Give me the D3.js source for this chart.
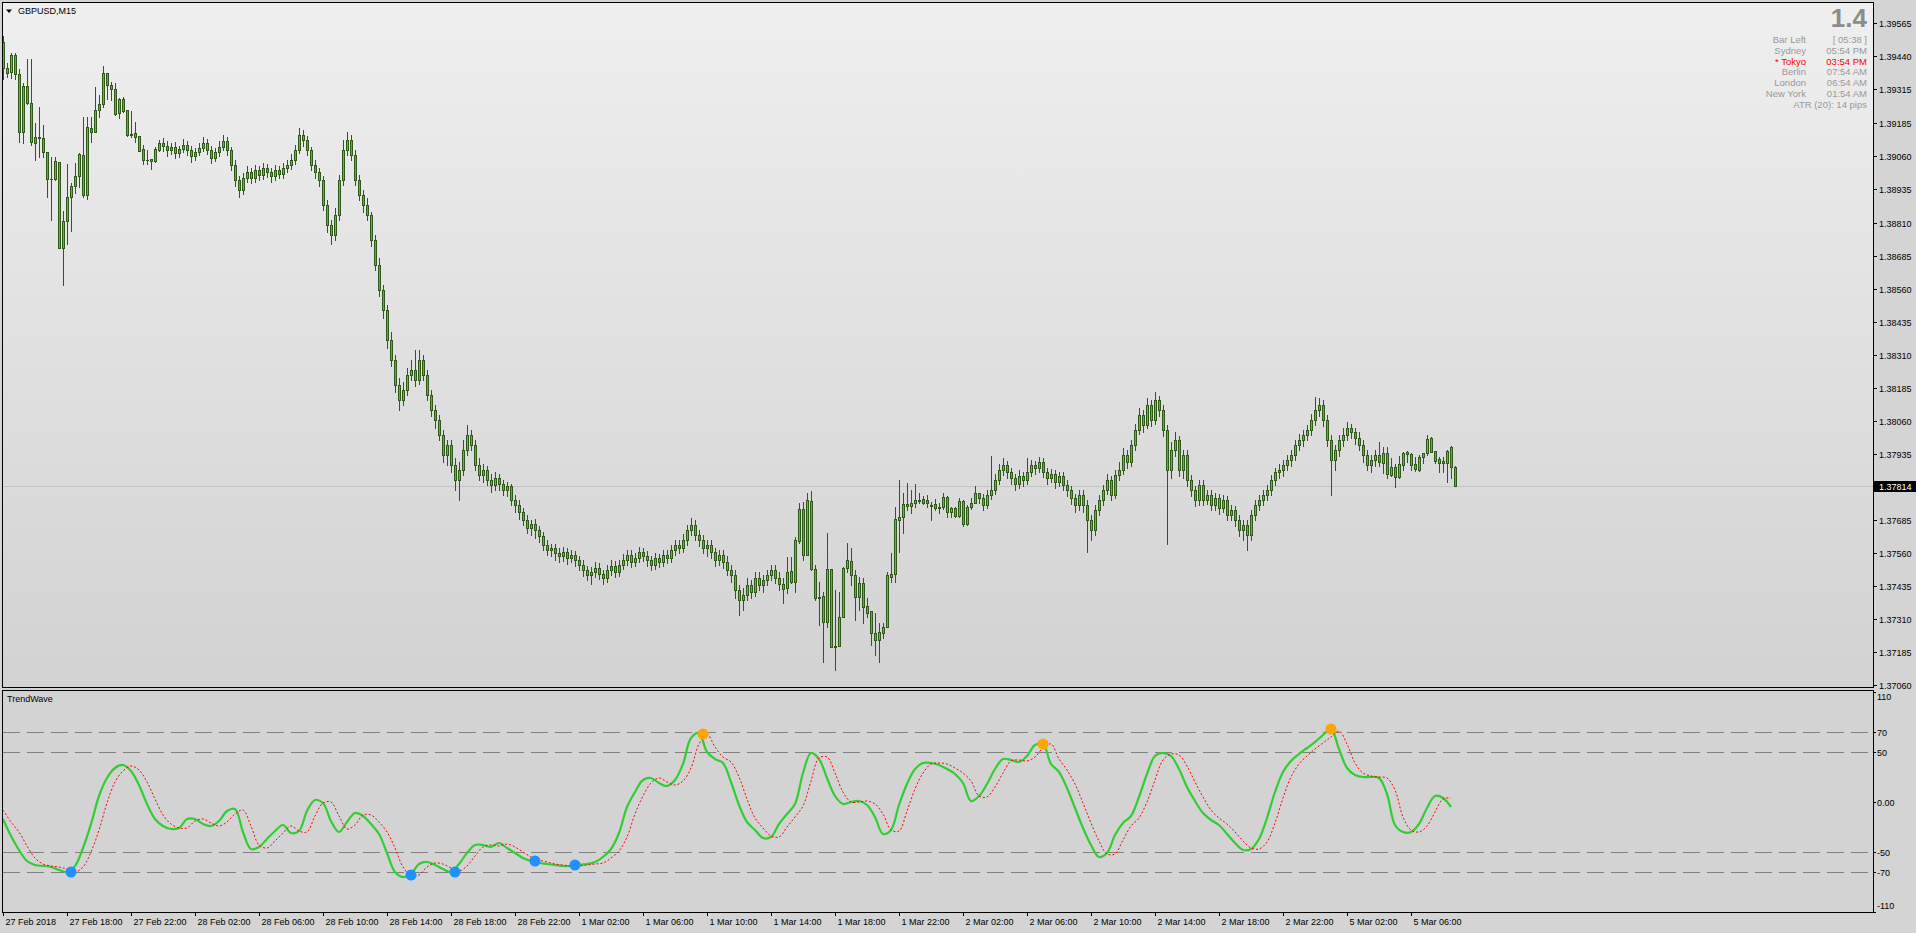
<!DOCTYPE html>
<html><head><meta charset="utf-8">
<script src="https://cdn.jsdelivr.net/npm/d3@7"></script>
<style>
html,body{margin:0;padding:0;background:#d4d4d4;overflow:hidden;}
svg{display:block;}
text{font-family:"Liberation Sans",Arial,sans-serif;}
</style></head><body>
<svg id="c" width="1916" height="933"></svg>
<script>
// ---------------- DATA ----------------
const symbolTitle = "GBPUSD,M15";
const timeTickBars = [0,16,32,48,64,80,96,112,128,144,160,176,192,208,224,240,256,272,288,304,320,336,352];
const timeTickLabels = ["27 Feb 2018","27 Feb 18:00","27 Feb 22:00","28 Feb 02:00","28 Feb 06:00","28 Feb 10:00","28 Feb 14:00","28 Feb 18:00","28 Feb 22:00","1 Mar 02:00","1 Mar 06:00","1 Mar 10:00","1 Mar 14:00","1 Mar 18:00","1 Mar 22:00","2 Mar 02:00","2 Mar 06:00","2 Mar 10:00","2 Mar 14:00","2 Mar 18:00","2 Mar 22:00","5 Mar 02:00","5 Mar 06:00"];
const priceTicks = [1.39565,1.39440,1.39315,1.39185,1.39060,1.38935,1.38810,1.38685,1.38560,1.38435,1.38310,1.38185,1.38060,1.37935,1.37685,1.37560,1.37435,1.37310,1.37185,1.37060];
const currentPrice = 1.37814;

const open = [
1.39493,1.39376,1.39379,1.39444,1.39372,1.39152,1.39326,1.39263,1.39111,1.39130,
1.39130,1.39076,1.38975,1.38975,1.39039,1.38714,1.38816,1.38907,1.38948,1.38986,
1.39065,1.38914,1.39168,1.39152,1.39236,1.39259,1.39376,1.39330,1.39315,1.39225,
1.39277,1.39236,1.39145,1.39149,1.39137,1.39088,1.39047,1.39050,1.39043,1.39084,
1.39111,1.39099,1.39084,1.39096,1.39073,1.39088,1.39103,1.39084,1.39061,1.39076,
1.39092,1.39111,1.39084,1.39054,1.39076,1.39096,1.39118,1.39084,1.39028,1.38971,
1.38933,1.38979,1.39001,1.38979,1.39009,1.38990,1.39017,1.39001,1.38986,1.39009,
1.38994,1.39017,1.39028,1.39047,1.39084,1.39141,1.39122,1.39084,1.39028,1.39001,
1.38971,1.38876,1.38801,1.38763,1.38838,1.38971,1.39084,1.39122,1.39065,1.38971,
1.38914,1.38876,1.38838,1.38744,1.38649,1.38555,1.38479,1.38365,1.38290,1.38195,
1.38138,1.38176,1.38233,1.38252,1.38214,1.38290,1.38233,1.38157,1.38101,1.38063,
1.38006,1.37930,1.37968,1.37892,1.37836,1.37874,1.37949,1.38006,1.37968,1.37892,
1.37855,1.37874,1.37836,1.37817,1.37844,1.37821,1.37798,1.37813,1.37760,1.37741,
1.37714,1.37684,1.37654,1.37669,1.37646,1.37623,1.37590,1.37571,1.37579,1.37560,
1.37548,1.37563,1.37541,1.37552,1.37533,1.37514,1.37495,1.37476,1.37487,1.37502,
1.37480,1.37465,1.37495,1.37510,1.37487,1.37514,1.37533,1.37552,1.37525,1.37541,
1.37563,1.37548,1.37533,1.37514,1.37541,1.37525,1.37552,1.37541,1.37571,1.37590,
1.37579,1.37609,1.37646,1.37665,1.37627,1.37609,1.37579,1.37590,1.37563,1.37533,
1.37552,1.37525,1.37495,1.37476,1.37419,1.37382,1.37400,1.37438,1.37411,1.37465,
1.37438,1.37457,1.37476,1.37495,1.37465,1.37442,1.37427,1.37491,1.37449,1.37605,
1.37726,1.37552,1.37756,1.37499,1.37393,1.37396,1.37298,1.37499,1.37207,1.37207,
1.37318,1.37503,1.37529,1.37476,1.37393,1.37446,1.37359,1.37340,1.37230,1.37230,
1.37257,1.37280,1.37469,1.37480,1.37684,1.37696,1.37745,1.37737,1.37749,1.37760,
1.37764,1.37760,1.37741,1.37745,1.37734,1.37734,1.37772,1.37714,1.37730,1.37699,
1.37756,1.37669,1.37734,1.37749,1.37787,1.37768,1.37741,1.37779,1.37798,1.37836,
1.37874,1.37892,1.37866,1.37844,1.37821,1.37851,1.37836,1.37866,1.37892,1.37881,
1.37903,1.37866,1.37844,1.37859,1.37828,1.37851,1.37817,1.37798,1.37768,1.37741,
1.37779,1.37741,1.37684,1.37646,1.37722,1.37760,1.37798,1.37836,1.37779,1.37855,
1.37874,1.37930,1.37903,1.37968,1.38025,1.38082,1.38044,1.38119,1.38063,1.38138,
1.38101,1.38025,1.37874,1.37949,1.37987,1.37874,1.37930,1.37836,1.37798,1.37760,
1.37817,1.37760,1.37779,1.37741,1.37768,1.37730,1.37760,1.37703,1.37722,1.37684,
1.37646,1.37665,1.37627,1.37703,1.37741,1.37760,1.37779,1.37798,1.37836,1.37866,
1.37874,1.37892,1.37911,1.37930,1.37968,1.37987,1.38006,1.38025,1.38063,1.38101,
1.38119,1.38063,1.37987,1.37911,1.37949,1.37987,1.38006,1.38033,1.38017,1.37995,
1.37968,1.37930,1.37892,1.37911,1.37930,1.37900,1.37938,1.37855,1.37885,1.37848,
1.37892,1.37941,1.37934,1.37896,1.37874,1.37923,1.37938,1.37995,1.37945,1.37915,
1.37907,1.37900,1.37961,1.37885];
const high = [
1.39515,1.39414,1.39452,1.39452,1.39391,1.39338,1.39429,1.39429,1.39187,1.39248,
1.39179,1.39076,1.39058,1.39058,1.39039,1.38853,1.39032,1.38960,1.39036,1.39073,
1.39210,1.39210,1.39210,1.39323,1.39292,1.39402,1.39376,1.39341,1.39338,1.39281,
1.39285,1.39236,1.39232,1.39190,1.39137,1.39103,1.39084,1.39050,1.39096,1.39122,
1.39130,1.39118,1.39111,1.39114,1.39099,1.39126,1.39118,1.39099,1.39092,1.39111,
1.39134,1.39126,1.39099,1.39092,1.39118,1.39141,1.39134,1.39096,1.39047,1.38986,
1.38998,1.39024,1.39017,1.39028,1.39024,1.39036,1.39032,1.39017,1.39028,1.39024,
1.39036,1.39047,1.39069,1.39103,1.39168,1.39160,1.39137,1.39096,1.39047,1.39017,
1.38986,1.38895,1.38820,1.38865,1.38990,1.39122,1.39152,1.39141,1.39084,1.38990,
1.38933,1.38903,1.38849,1.38763,1.38676,1.38573,1.38498,1.38395,1.38309,1.38222,
1.38206,1.38260,1.38290,1.38328,1.38328,1.38309,1.38252,1.38176,1.38119,1.38082,
1.38025,1.37987,1.37987,1.37919,1.37903,1.37987,1.38044,1.38025,1.37987,1.37919,
1.37896,1.37889,1.37859,1.37866,1.37859,1.37836,1.37828,1.37821,1.37779,1.37760,
1.37730,1.37703,1.37684,1.37688,1.37661,1.37639,1.37609,1.37594,1.37594,1.37579,
1.37582,1.37579,1.37571,1.37567,1.37548,1.37533,1.37510,1.37506,1.37525,1.37522,
1.37495,1.37514,1.37533,1.37529,1.37533,1.37556,1.37571,1.37571,1.37560,1.37582,
1.37579,1.37567,1.37548,1.37560,1.37556,1.37571,1.37571,1.37590,1.37609,1.37609,
1.37631,1.37665,1.37692,1.37684,1.37646,1.37627,1.37609,1.37609,1.37579,1.37571,
1.37571,1.37548,1.37514,1.37495,1.37438,1.37427,1.37465,1.37457,1.37487,1.37487,
1.37476,1.37495,1.37514,1.37514,1.37487,1.37465,1.37545,1.37545,1.37620,1.37749,
1.37752,1.37787,1.37794,1.37514,1.37449,1.37411,1.37635,1.37499,1.37419,1.37411,
1.37507,1.37598,1.37579,1.37495,1.37469,1.37465,1.37389,1.37340,1.37333,1.37295,
1.37295,1.37487,1.37560,1.37734,1.37836,1.37787,1.37825,1.37798,1.37821,1.37787,
1.37775,1.37779,1.37752,1.37764,1.37749,1.37787,1.37775,1.37734,1.37734,1.37768,
1.37760,1.37741,1.37768,1.37813,1.37764,1.37783,1.37798,1.37926,1.37859,1.37896,
1.37919,1.37907,1.37881,1.37859,1.37874,1.37866,1.37919,1.37911,1.37907,1.37923,
1.37919,1.37881,1.37877,1.37874,1.37866,1.37866,1.37836,1.37813,1.37783,1.37798,
1.37798,1.37760,1.37703,1.37741,1.37779,1.37817,1.37859,1.37851,1.37874,1.37903,
1.37957,1.37949,1.37987,1.38048,1.38108,1.38101,1.38146,1.38138,1.38168,1.38153,
1.38119,1.38044,1.37979,1.38017,1.38002,1.37949,1.37949,1.37855,1.37813,1.37836,
1.37836,1.37798,1.37798,1.37787,1.37783,1.37779,1.37775,1.37741,1.37737,1.37703,
1.37684,1.37684,1.37722,1.37760,1.37779,1.37798,1.37817,1.37855,1.37881,1.37896,
1.37911,1.37930,1.37949,1.37987,1.38010,1.38025,1.38044,1.38086,1.38150,1.38146,
1.38138,1.38082,1.38006,1.37968,1.38006,1.38033,1.38055,1.38048,1.38033,1.38017,
1.37987,1.37949,1.37930,1.37949,1.37979,1.37961,1.37961,1.37919,1.37896,1.37926,
1.37941,1.37945,1.37938,1.37923,1.37930,1.37938,1.38006,1.37999,1.37945,1.37923,
1.37923,1.37949,1.37964,1.37888];
const low = [
1.39353,1.39361,1.39357,1.39353,1.39114,1.39111,1.39259,1.39103,1.39047,1.39058,
1.39058,1.38907,1.38820,1.38971,1.38714,1.38573,1.38729,1.38778,1.38922,1.38945,
1.38907,1.38899,1.39114,1.39152,1.39210,1.39248,1.39277,1.39274,1.39217,1.39206,
1.39228,1.39137,1.39134,1.39114,1.39080,1.39032,1.39032,1.39013,1.39039,1.39080,
1.39080,1.39061,1.39069,1.39054,1.39058,1.39076,1.39065,1.39039,1.39047,1.39065,
1.39080,1.39069,1.39036,1.39043,1.39061,1.39084,1.39065,1.39009,1.38948,1.38907,
1.38918,1.38963,1.38960,1.38963,1.38971,1.38975,1.38983,1.38963,1.38971,1.38979,
1.38979,1.39001,1.39013,1.39032,1.39073,1.39099,1.39065,1.39009,1.38979,1.38948,
1.38857,1.38774,1.38729,1.38744,1.38820,1.38952,1.39065,1.39047,1.38952,1.38895,
1.38849,1.38820,1.38721,1.38630,1.38532,1.38449,1.38335,1.38267,1.38168,1.38101,
1.38119,1.38157,1.38214,1.38191,1.38199,1.38214,1.38138,1.38078,1.38033,1.37987,
1.37903,1.37892,1.37866,1.37798,1.37760,1.37855,1.37930,1.37949,1.37874,1.37836,
1.37828,1.37817,1.37790,1.37798,1.37798,1.37779,1.37775,1.37741,1.37714,1.37688,
1.37665,1.37635,1.37627,1.37616,1.37601,1.37571,1.37552,1.37548,1.37533,1.37525,
1.37529,1.37518,1.37525,1.37510,1.37495,1.37472,1.37457,1.37442,1.37469,1.37461,
1.37442,1.37449,1.37476,1.37469,1.37472,1.37499,1.37514,1.37506,1.37510,1.37525,
1.37529,1.37510,1.37495,1.37499,1.37506,1.37510,1.37522,1.37525,1.37552,1.37560,
1.37563,1.37590,1.37627,1.37609,1.37586,1.37560,1.37548,1.37541,1.37510,1.37514,
1.37502,1.37476,1.37449,1.37389,1.37325,1.37344,1.37382,1.37389,1.37396,1.37419,
1.37411,1.37438,1.37457,1.37446,1.37419,1.37371,1.37408,1.37446,1.37411,1.37598,
1.37533,1.37552,1.37495,1.37382,1.37287,1.37147,1.37280,1.37204,1.37117,1.37207,
1.37318,1.37487,1.37438,1.37306,1.37344,1.37295,1.37318,1.37211,1.37173,1.37147,
1.37238,1.37280,1.37449,1.37449,1.37563,1.37635,1.37722,1.37711,1.37734,1.37749,
1.37745,1.37734,1.37684,1.37722,1.37711,1.37726,1.37696,1.37696,1.37696,1.37696,
1.37661,1.37665,1.37726,1.37749,1.37749,1.37722,1.37730,1.37764,1.37783,1.37821,
1.37855,1.37844,1.37821,1.37798,1.37806,1.37813,1.37821,1.37851,1.37859,1.37866,
1.37848,1.37821,1.37828,1.37806,1.37813,1.37798,1.37775,1.37745,1.37714,1.37722,
1.37714,1.37563,1.37609,1.37627,1.37703,1.37741,1.37783,1.37760,1.37768,1.37836,
1.37859,1.37881,1.37888,1.37949,1.38010,1.38017,1.38033,1.38040,1.38048,1.38078,
1.38002,1.37594,1.37844,1.37926,1.37851,1.37844,1.37813,1.37775,1.37737,1.37741,
1.37741,1.37745,1.37722,1.37722,1.37707,1.37714,1.37684,1.37684,1.37661,1.37623,
1.37609,1.37571,1.37609,1.37684,1.37722,1.37741,1.37760,1.37779,1.37817,1.37844,
1.37851,1.37874,1.37888,1.37911,1.37949,1.37964,1.37987,1.38006,1.38044,1.38078,
1.38040,1.37964,1.37779,1.37874,1.37926,1.37964,1.37987,1.37995,1.37972,1.37949,
1.37903,1.37874,1.37866,1.37888,1.37888,1.37863,1.37844,1.37851,1.37810,1.37844,
1.37874,1.37903,1.37874,1.37870,1.37870,1.37900,1.37930,1.37941,1.37900,1.37866,
1.37866,1.37828,1.37844,1.37814];
const close = [
1.39395,1.39395,1.39444,1.39372,1.39152,1.39326,1.39263,1.39114,1.39134,1.39134,
1.39076,1.38975,1.38975,1.39043,1.38714,1.38816,1.38907,1.38948,1.38986,1.39069,
1.38914,1.39172,1.39152,1.39236,1.39259,1.39376,1.39330,1.39315,1.39221,1.39277,
1.39232,1.39141,1.39141,1.39134,1.39080,1.39047,1.39045,1.39043,1.39088,1.39111,
1.39099,1.39084,1.39096,1.39073,1.39088,1.39103,1.39084,1.39061,1.39076,1.39092,
1.39111,1.39084,1.39054,1.39076,1.39096,1.39118,1.39084,1.39028,1.38971,1.38933,
1.38979,1.39001,1.38979,1.39009,1.38990,1.39017,1.39001,1.38986,1.39009,1.38994,
1.39017,1.39028,1.39047,1.39084,1.39141,1.39122,1.39084,1.39028,1.39001,1.38971,
1.38876,1.38801,1.38763,1.38838,1.38971,1.39084,1.39122,1.39065,1.38971,1.38914,
1.38876,1.38838,1.38744,1.38649,1.38555,1.38479,1.38365,1.38290,1.38195,1.38138,
1.38176,1.38233,1.38252,1.38214,1.38290,1.38233,1.38157,1.38101,1.38063,1.38006,
1.37930,1.37968,1.37892,1.37836,1.37874,1.37949,1.38006,1.37968,1.37892,1.37855,
1.37874,1.37836,1.37817,1.37844,1.37821,1.37798,1.37813,1.37760,1.37741,1.37714,
1.37684,1.37654,1.37669,1.37646,1.37623,1.37590,1.37571,1.37579,1.37560,1.37548,
1.37563,1.37541,1.37552,1.37533,1.37514,1.37495,1.37476,1.37487,1.37502,1.37480,
1.37465,1.37495,1.37510,1.37487,1.37514,1.37533,1.37552,1.37525,1.37541,1.37563,
1.37548,1.37533,1.37514,1.37541,1.37525,1.37552,1.37541,1.37571,1.37590,1.37579,
1.37609,1.37646,1.37665,1.37627,1.37609,1.37579,1.37590,1.37563,1.37533,1.37552,
1.37525,1.37495,1.37476,1.37419,1.37382,1.37400,1.37438,1.37411,1.37465,1.37438,
1.37457,1.37476,1.37495,1.37465,1.37442,1.37423,1.37487,1.37449,1.37609,1.37726,
1.37552,1.37760,1.37499,1.37389,1.37390,1.37298,1.37499,1.37204,1.37204,1.37318,
1.37503,1.37533,1.37476,1.37393,1.37446,1.37356,1.37333,1.37257,1.37257,1.37260,
1.37280,1.37476,1.37480,1.37688,1.37696,1.37745,1.37737,1.37749,1.37760,1.37756,
1.37749,1.37749,1.37738,1.37730,1.37731,1.37772,1.37714,1.37730,1.37699,1.37756,
1.37669,1.37734,1.37749,1.37787,1.37768,1.37741,1.37779,1.37798,1.37836,1.37874,
1.37892,1.37866,1.37844,1.37821,1.37851,1.37836,1.37866,1.37892,1.37881,1.37903,
1.37866,1.37844,1.37859,1.37828,1.37851,1.37817,1.37798,1.37768,1.37741,1.37779,
1.37741,1.37684,1.37646,1.37722,1.37760,1.37798,1.37836,1.37779,1.37855,1.37874,
1.37930,1.37903,1.37968,1.38025,1.38082,1.38044,1.38119,1.38063,1.38138,1.38101,
1.38025,1.37874,1.37949,1.37987,1.37874,1.37930,1.37836,1.37798,1.37760,1.37817,
1.37760,1.37779,1.37741,1.37768,1.37730,1.37760,1.37703,1.37722,1.37684,1.37646,
1.37665,1.37627,1.37703,1.37741,1.37760,1.37779,1.37798,1.37836,1.37866,1.37874,
1.37892,1.37911,1.37930,1.37968,1.37987,1.38006,1.38025,1.38063,1.38101,1.38119,
1.38063,1.37987,1.37911,1.37949,1.37987,1.38006,1.38033,1.38017,1.37995,1.37968,
1.37930,1.37892,1.37911,1.37930,1.37903,1.37938,1.37859,1.37885,1.37848,1.37896,
1.37938,1.37934,1.37892,1.37877,1.37923,1.37938,1.37991,1.37941,1.37907,1.37900,
1.37900,1.37945,1.37885,1.37814];

// TrendWave indicator, one value every 2 bars (bar 0,2,4,...)
const twGreen = [-17,-34,-48,-59,-63,-64,-65,-68,-70,-64,
-46,-22,6,24,34,37,31,17,-2,-17,
-24,-27,-26,-17,-17,-22,-24,-19,-9,-7,
-30,-47,-45,-37,-29,-23,-31,-29,-9,2,
-1,-19,-30,-20,-11,-14,-22,-32,-51,-70,
-75,-72,-62,-60,-63,-67,-70,-62,-51,-43,
-43,-45,-41,-46,-51,-56,-59,-61,-62,-63,
-64,-64,-63,-62,-60,-55,-47,-31,-5,10,
22,24,19,16,22,38,64,69,50,43,
39,20,-3,-20,-28,-36,-35,-22,-12,-2,
29,49,43,24,6,-2,0,1,-3,-15,
-32,-28,-3,18,33,39,39,37,33,28,
19,1,6,18,33,43,42,40,46,57,
58,38,30,14,-6,-26,-43,-55,-51,-33,
-21,-14,5,28,46,49,46,33,15,1,
-11,-18,-23,-32,-41,-48,-47,-37,-16,10,
30,41,48,54,60,67,73,53,34,27,
25,25,24,8,-23,-30,-30,-22,-6,6,
4,-5];
const twSignal = [-8,-20,-30,-44,-56,-62,-64,-65,-67,-70,
-65,-50,-28,-1,20,31,36,32,20,3,
-13,-22,-26,-26,-19,-17,-21,-24,-20,-12,
-8,-24,-43,-46,-39,-31,-24,-29,-30,-14,
-1,0,-14,-27,-23,-13,-13,-20,-30,-46,
-65,-74,-73,-65,-61,-62,-66,-69,-64,-54,
-45,-43,-44,-42,-45,-50,-55,-58,-60,-62,
-63,-64,-64,-63,-62,-61,-56,-49,-35,-12,
6,19,24,20,17,21,34,58,68,55,
45,40,25,3,-16,-26,-34,-35,-25,-15,
-4,21,44,45,29,10,0,0,1,-2,
-12,-28,-29,-9,13,29,38,39,38,34,
29,21,6,5,15,29,41,42,41,45,
54,58,43,32,18,-1,-21,-39,-52,-52,
-38,-24,-16,0,22,42,48,47,36,20,
5,-8,-16,-22,-30,-39,-46,-47,-40,-21,
4,25,38,46,53,59,65,71,58,39,
29,26,25,24,12,-15,-28,-30,-24,-10,
3,4];
const buyDotBars = [17,102,113,133,143];
const buyDotVals = [-70,-73,-70,-59,-63];
const sellDotBars = [175,260,332];
const sellDotVals = [68,58,73];
const twLevels = [70,50,-50,-70];
const twAxisTicks = [110,70,50,0,-50,-70,-110];
const twAxisLabels = ["110","70","50","0.00","-50","-70","-110"];

const infoBig = "1.4";
const infoNames = ["Bar Left","Sydney","* Tokyo","Berlin","London","New York"];
const infoTimes = ["[ 05:38 ]","05:54 PM","03:54 PM","07:54 AM","06:54 AM","01:54 AM"];
const infoHighlight = [false,false,true,false,false,false];
const atrText = "ATR (20): 14 pips";

// ---------------- LAYOUT ----------------
const W=1916,H=933;
const L=2,R=1873,T=2,B=687,IT=690,IB=912;
const svg=d3.select('#c');
const x=d3.scaleLinear().domain([0,363]).range([3,1455]);
const y=d3.scaleLinear().domain([1.37060,1.39565]).range([685,23]);
const yi=d3.scaleLinear().domain([-110,110]).range([912,692]);

const defs=svg.append('defs');
const g=defs.append('linearGradient').attr('id','bg').attr('x1',0).attr('y1',0).attr('x2',0).attr('y2',1);
g.append('stop').attr('offset','0%').attr('stop-color','#efefef');
g.append('stop').attr('offset','100%').attr('stop-color','#d2d2d2');
defs.append('clipPath').attr('id','cm').append('rect').attr('x',L+1).attr('y',T+1).attr('width',R-L-1).attr('height',B-T-1);
defs.append('clipPath').attr('id','ci').append('rect').attr('x',L+1).attr('y',IT+1).attr('width',R-L-1).attr('height',IB-IT-1);

svg.append('rect').attr('width',W).attr('height',H).attr('fill','#d4d4d4');
svg.append('rect').attr('x',L+0.5).attr('y',T+0.5).attr('width',R-L).attr('height',B-T)
  .attr('fill','url(#bg)').attr('stroke','#000').attr('shape-rendering','crispEdges');
svg.append('rect').attr('x',L+0.5).attr('y',IT+0.5).attr('width',R-L).attr('height',IB-IT)
  .attr('fill','#d3d3d3').attr('stroke','#000').attr('shape-rendering','crispEdges');

// current price line
const cpY=Math.round(y(currentPrice))+0.5;
svg.append('line').attr('x1',L+1).attr('x2',R).attr('y1',cpY).attr('y2',cpY).attr('stroke','#c4c4c4');

// candles
const WICK='#2d5a16', BULL='#46c846', BEAR='#c87a44';
const cg=svg.append('g').attr('clip-path','url(#cm)').attr('shape-rendering','crispEdges');
close.forEach((c,i)=>{
  const o=open[i],h=high[i],l=low[i];
  const cx=Math.round(x(i));
  const yh=Math.round(y(h)), yl=Math.round(y(l));
  cg.append('rect').attr('x',cx).attr('y',yh).attr('width',1).attr('height',Math.max(1,yl-yh+1)).attr('fill',WICK);
  const yt=Math.round(y(Math.max(o,c))), yb=Math.round(y(Math.min(o,c)));
  const bh=Math.max(1,yb-yt+1);
  cg.append('rect').attr('x',cx-1).attr('y',yt).attr('width',3).attr('height',bh).attr('fill',WICK);
  if(bh>2) cg.append('rect').attr('x',cx).attr('y',yt+1).attr('width',1).attr('height',bh-2).attr('fill',c>=o?BULL:BEAR);
});

// price axis
const pa=svg.append('g');
priceTicks.forEach(v=>{
  const yy=Math.round(y(v))+0.5;
  pa.append('line').attr('x1',R).attr('x2',R+4).attr('y1',yy).attr('y2',yy).attr('stroke','#000').attr('shape-rendering','crispEdges');
  pa.append('text').attr('x',R+6).attr('y',yy).attr('dominant-baseline','central').attr('font-size','9px').attr('fill','#000').text(v.toFixed(5));
});
svg.append('rect').attr('x',R).attr('y',cpY-5.5).attr('width',W-R).attr('height',11).attr('fill','#000');
svg.append('text').attr('x',R+6).attr('y',cpY).attr('dominant-baseline','central').attr('font-size','9px').attr('fill','#fff').text(currentPrice.toFixed(5));

// title
svg.append('path').attr('d','M6,9.5 L12,9.5 L9,13 Z').attr('fill','#000');
svg.append('text').attr('x',18).attr('y',11).attr('dominant-baseline','central').attr('font-size','9px').attr('fill','#000').text(symbolTitle);

// info panel
svg.append('text').attr('x',1867).attr('y',27).attr('text-anchor','end').attr('font-size','26px').attr('font-weight','bold').attr('fill','#8c8c8c').text(infoBig);
const rowY=[39,50,61,71.5,82,93];
infoNames.forEach((n,k)=>{
  const col=infoHighlight[k]?'#ff0000':'#999999';
  svg.append('text').attr('x',1806).attr('y',rowY[k]).attr('text-anchor','end').attr('dominant-baseline','central').attr('font-size','9.5px').attr('fill',col).text(n);
  svg.append('text').attr('x',1867).attr('y',rowY[k]).attr('text-anchor','end').attr('dominant-baseline','central').attr('font-size','9.5px').attr('fill',col).text(infoTimes[k]);
});
svg.append('text').attr('x',1867).attr('y',104).attr('text-anchor','end').attr('dominant-baseline','central').attr('font-size','9.5px').attr('fill','#999999').text(atrText);

// indicator panel
const ig=svg.append('g').attr('clip-path','url(#ci)');
twLevels.forEach(v=>{
  const yy=Math.round(yi(v))+0.5;
  ig.append('line').attr('x1',L+1).attr('x2',R).attr('y1',yy).attr('y2',yy).attr('stroke','#808080').attr('stroke-dasharray','17,7').attr('shape-rendering','crispEdges');
});
const line=d3.line().x((d,k)=>x(2*k)).y(d=>yi(d)).curve(d3.curveCatmullRom.alpha(0.5));
ig.append('path').attr('d',line(twGreen)).attr('fill','none').attr('stroke','#32cd32').attr('stroke-width',2.2);
ig.append('path').attr('d',line(twSignal)).attr('fill','none').attr('stroke','#ff0000').attr('stroke-width',1).attr('stroke-dasharray','2,2');
buyDotBars.forEach((b,k)=>ig.append('circle').attr('cx',x(b)).attr('cy',yi(buyDotVals[k])).attr('r',5.5).attr('fill','#1e90ff'));
sellDotBars.forEach((b,k)=>ig.append('circle').attr('cx',x(b)).attr('cy',yi(sellDotVals[k])).attr('r',5.5).attr('fill','#ffa500'));
svg.append('text').attr('x',7).attr('y',699).attr('dominant-baseline','central').attr('font-size','9px').attr('fill','#000').text('TrendWave');

// indicator axis
twAxisTicks.forEach((v,k)=>{
  const yy=Math.round(yi(v))+0.5;
  const ly=Math.min(Math.max(yy,697),906);
  svg.append('line').attr('x1',R).attr('x2',R+3).attr('y1',yy).attr('y2',yy).attr('stroke','#000').attr('shape-rendering','crispEdges');
  svg.append('text').attr('x',R+4).attr('y',ly).attr('dominant-baseline','central').attr('font-size','9px').attr('fill','#000').text(twAxisLabels[k]);
});

// time axis
timeTickBars.forEach((b,k)=>{
  const tx=Math.round(x(b))+0.5;
  svg.append('line').attr('x1',tx).attr('x2',tx).attr('y1',IB).attr('y2',IB+4).attr('stroke','#000').attr('shape-rendering','crispEdges');
  svg.append('text').attr('x',tx+2).attr('y',922).attr('dominant-baseline','central').attr('font-size','9px').attr('fill','#000').text(timeTickLabels[k]);
});
</script>
</body></html>
